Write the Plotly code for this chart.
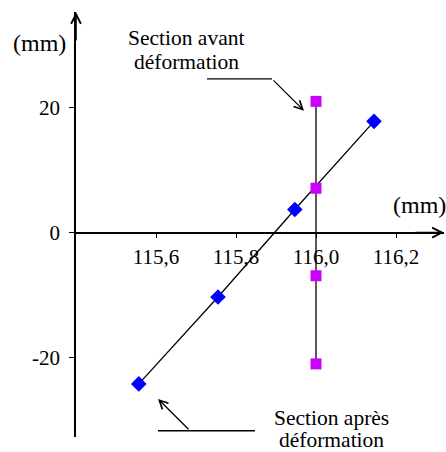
import plotly.graph_objects as go

# Section before deformation (vertical) and after deformation (tilted)
avant_x = [116.0, 116.0, 116.0, 116.0]
avant_y = [21.0, 7.1, -6.9, -21.0]

apres_x = [115.557, 115.755, 115.947, 116.145]
apres_y = [-24.2, -10.3, 3.7, 17.8]

x_ticks = [115.6, 115.8, 116.0, 116.2]
x_labels = ['115,6', '115,8', '116,0', '116,2']
y_ticks = [-20, 0, 20]
y_labels = ['-20', '0', '20']

x_range = [115.4, 116.32]
y_range = [-32.7, 35.3]

SERIF = 'Liberation Serif'
FONT = dict(family=SERIF, size=21, color='black')
TEXT_FONT = dict(family=SERIF, size=21.5, color='black')
UNIT_FONT = dict(family=SERIF, size=24, color='black')

fig = go.Figure()

fig.add_trace(go.Scatter(
    x=apres_x, y=apres_y, mode='lines+markers',
    line=dict(color='black', width=1.3),
    marker=dict(symbol='diamond', size=12, color='#0000FF'),
    showlegend=False,
))
fig.add_trace(go.Scatter(
    x=avant_x, y=avant_y, mode='lines+markers',
    line=dict(color='black', width=1.3),
    marker=dict(symbol='square', size=11, color='#CC00FF'),
    showlegend=False,
))

# bent leader lines: horizontal part as a shape, slanted part as an arrow
fig.add_shape(type='line', x0=115.7275, x1=115.89, y0=24.6, y1=24.6,
              line=dict(color='black', width=1.3))
fig.add_shape(type='line', x0=115.605, x1=115.8475, y0=-31.7, y1=-31.7,
              line=dict(color='black', width=1.3))

arrow = dict(text='', showarrow=True, arrowhead=5, arrowsize=1.3,
             arrowwidth=1.3, arrowcolor='black', axref='x', ayref='y',
             xref='x', yref='y', standoff=0)
fig.add_annotation(x=115.97, y=19.5, ax=115.89, ay=24.6, **arrow)
fig.add_annotation(x=115.605, y=-26.6, ax=115.685, ay=-31.7, **arrow)

# callout texts, one annotation per line for tighter line spacing
# (y in paper units so the lowest line is not hidden below the axis range)
callouts = [
    (115.675, 0.9388, 'Section avant'),
    (115.675, 0.8824, 'déformation'),
    (116.0375, 0.045, 'Section après'),
    (116.0375, -0.008, 'déformation'),
]
for cx, cy, txt in callouts:
    fig.add_annotation(x=cx, y=cy, xref='x', yref='paper', text=txt,
                       showarrow=False, font=TEXT_FONT,
                       xanchor='center', yanchor='middle')

# axis arrows
fig.add_annotation(x=x_range[0], y=y_range[1], ax=0, ay=30, text='', showarrow=True,
                   arrowhead=5, arrowsize=1.2, arrowwidth=1.6, arrowcolor='black')
fig.add_annotation(x=x_range[1], y=0, ax=-30, ay=0, text='', showarrow=True,
                   arrowhead=5, arrowsize=1.2, arrowwidth=1.6, arrowcolor='black')

# axis unit labels
fig.add_annotation(x=-0.098, y=0.927, xref='paper', yref='paper', text='(mm)',
                   showarrow=False, font=UNIT_FONT, xanchor='center', yanchor='middle')
fig.add_annotation(x=0.856, y=0.546, xref='paper', yref='paper', text='(mm)',
                   showarrow=False, font=UNIT_FONT, xanchor='left', yanchor='middle')

fig.update_layout(
    width=446, height=452,
    margin=dict(l=76, r=2, t=12, b=15),
    plot_bgcolor='white', paper_bgcolor='white',
    font=FONT,
    xaxis=dict(
        range=x_range, anchor='free',
        position=(0 - y_range[0]) / (y_range[1] - y_range[0]),
        showline=True, linecolor='black', linewidth=1.6,
        ticks='outside', ticklen=5, tickcolor='black', tickwidth=1.3,
        tickvals=x_ticks, ticktext=x_labels,
        showgrid=False, zeroline=False, ticklabelstandoff=0,
    ),
    yaxis=dict(
        range=y_range,
        showline=True, linecolor='black', linewidth=1.6,
        ticks='outside', ticklen=5, tickcolor='black', tickwidth=1.3,
        tickvals=y_ticks, ticktext=y_labels,
        showgrid=False, zeroline=False, ticklabelstandoff=5,
    ),
)

fig.write_html("out.html", config={'displayModeBar': False},
               post_script="document.body.style.margin='0';")
